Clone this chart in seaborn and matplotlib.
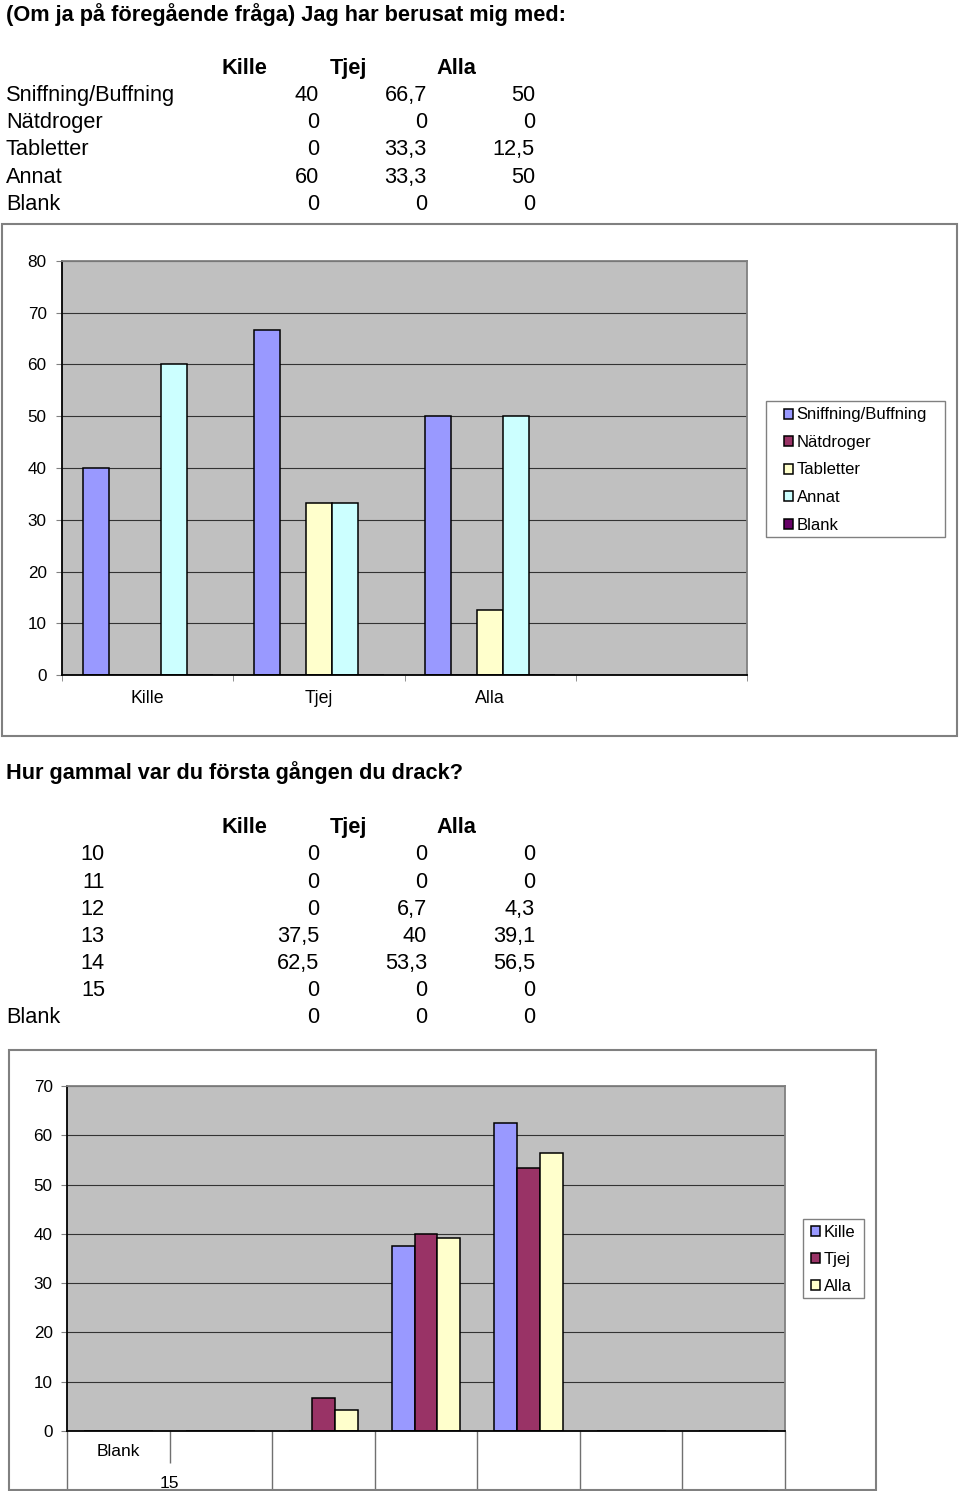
import numpy as np
import pandas as pd
import matplotlib
matplotlib.use('Agg')
import matplotlib.pyplot as plt
from matplotlib.patches import Rectangle
import seaborn as sns

# ---------------- data ----------------
groups = ['Kille', 'Tjej', 'Alla']
substances = ['Sniffning/Buffning', 'Nätdroger', 'Tabletter', 'Annat', 'Blank']
sub_kille = [40, 0, 0, 60, 0]
sub_tjej = [66.7, 0, 33.3, 33.3, 0]
sub_alla = [50, 0, 12.5, 50, 0]
sub_colors = ['#9999FF', '#993366', '#FFFFCC', '#CCFFFF', '#660066']

ages = ['10', '11', '12', '13', '14', '15', 'Blank']
age_kille = [0, 0, 0, 37.5, 62.5, 0, 0]
age_tjej = [0, 0, 6.7, 40, 53.3, 0, 0]
age_alla = [0, 0, 4.3, 39.1, 56.5, 0, 0]
age_colors = ['#9999FF', '#993366', '#FFFFCC']

title1 = '(Om ja på föregående fråga) Jag har berusat mig med:'
title2 = 'Hur gammal var du första gången du drack?'
y1_ticks = list(range(0, 81, 10))
y2_ticks = list(range(0, 71, 10))

# ---------------- setup ----------------
plt.rcParams['font.family'] = ['Liberation Sans', 'DejaVu Sans']
W, H = 960, 1491
fig = plt.figure(figsize=(W / 100, H / 100), dpi=100)
fig.patch.set_facecolor('white')


def fx(x):
    return x / W


def fy(y):
    return 1 - y / H


def fmt(v):
    return f'{v:g}'.replace('.', ',')


TFS = 15.7
# ---------------- table 1 ----------------
fig.text(fx(6), fy(21), title1, fontsize=TFS, fontweight='bold', va='baseline', ha='left')
col_hdr_x = [244, 348, 456]
col_val_x = [319, 427, 535]
for g, x in zip(groups, col_hdr_x):
    fig.text(fx(x), fy(74), g, fontsize=TFS, fontweight='bold', ha='center', va='baseline')
row_base1 = [101, 128, 155, 183, 210]
for i, s in enumerate(substances):
    yb = row_base1[i]
    fig.text(fx(6), fy(yb), s, fontsize=TFS, ha='left', va='baseline')
    for vals, x in zip([sub_kille, sub_tjej, sub_alla], col_val_x):
        fig.text(fx(x), fy(yb), fmt(vals[i]), fontsize=TFS, ha='right', va='baseline')

# ---------------- chart 1 ----------------
fig.add_artist(Rectangle((fx(2), fy(736)), (957 - 2) / W, (736 - 224) / H,
                         transform=fig.transFigure, fill=False, ec='#808080', lw=1.5))
ax1 = fig.add_axes([fx(62), fy(675), (747 - 62) / W, (675 - 261) / H])
rows = []
for g, vals in zip(groups, [sub_kille, sub_tjej, sub_alla]):
    for s, v in zip(substances, vals):
        rows.append({'group': g, 'series': s, 'value': v})
df1 = pd.DataFrame(rows)
sns.barplot(data=df1, x='group', y='value', hue='series', order=groups,
            hue_order=substances, palette=sub_colors, saturation=1, width=0.76,
            edgecolor='black', linewidth=1.1, errorbar=None, ax=ax1)
ax1.set_xlim(-0.5, 3.5)
ax1.set_ylim(0, 80)
ax1.set_facecolor('#C0C0C0')
ax1.set_yticks(y1_ticks)
ax1.yaxis.grid(True, color='#333333', lw=0.8)
ax1.set_axisbelow(True)
ax1.set_xlabel('')
ax1.set_ylabel('')
ax1.set_xticks(range(len(groups)))
ax1.set_xticklabels(groups)
ax1.set_xticks(np.arange(-0.5, 3.6, 1), minor=True)
ax1.tick_params(axis='x', which='major', length=0, pad=11, labelsize=12.8)
ax1.tick_params(axis='x', which='minor', length=4, color='#808080', direction='out')
ax1.tick_params(axis='y', length=4, color='#808080', pad=7, labelsize=12.3)
for sp in ['left', 'bottom']:
    ax1.spines[sp].set_color('black')
    ax1.spines[sp].set_linewidth(1.3)
for sp in ['top', 'right']:
    ax1.spines[sp].set_color('#808080')
    ax1.spines[sp].set_linewidth(1.3)
h1, l1 = ax1.get_legend_handles_labels()
if ax1.get_legend() is not None:
    ax1.get_legend().remove()
fig.add_artist(Rectangle((fx(766), fy(537)), (945 - 766) / W, (537 - 401) / H,
                         transform=fig.transFigure, fill=True, fc='white',
                         ec='#808080', lw=1.0, zorder=-1))
leg1 = ax1.legend(h1, l1, loc='upper left', bbox_to_anchor=(fx(784), fy(407.5)),
                  bbox_transform=fig.transFigure, frameon=False,
                  fontsize=12, handlelength=0.55, handleheight=0.55,
                  handletextpad=0.2, labelspacing=0.75, borderpad=0, borderaxespad=0)

# ---------------- table 2 ----------------
fig.text(fx(6), fy(779), title2, fontsize=TFS, fontweight='bold', va='baseline', ha='left')
for g, x in zip(groups, col_hdr_x):
    fig.text(fx(x), fy(833), g, fontsize=TFS, fontweight='bold', ha='center', va='baseline')
row_base2 = [860, 888, 915, 942, 969, 996, 1023]
for i, a in enumerate(ages):
    yb = row_base2[i]
    if a.isdigit():
        fig.text(fx(105), fy(yb), a, fontsize=TFS, ha='right', va='baseline')
    else:
        fig.text(fx(6), fy(yb), a, fontsize=TFS, ha='left', va='baseline')
    for vals, x in zip([age_kille, age_tjej, age_alla], col_val_x):
        fig.text(fx(x), fy(yb), fmt(vals[i]), fontsize=TFS, ha='right', va='baseline')

# ---------------- chart 2 ----------------
fig.add_artist(Rectangle((fx(9), fy(1490)), (876 - 9) / W, (1490 - 1050) / H,
                         transform=fig.transFigure, fill=False, ec='#808080', lw=1.5))
ax2 = fig.add_axes([fx(67), fy(1431), (785 - 67) / W, (1431 - 1086) / H])
rows = []
for g, vals in zip(groups, [age_kille, age_tjej, age_alla]):
    for a, v in zip(ages, vals):
        rows.append({'age': a, 'group': g, 'value': v})
df2 = pd.DataFrame(rows)
sns.barplot(data=df2, x='age', y='value', hue='group', order=ages,
            hue_order=groups, palette=age_colors, saturation=1, width=0.67,
            edgecolor='black', linewidth=1.1, errorbar=None, ax=ax2)
ax2.set_xlim(-0.5, len(ages) - 0.5)
ax2.set_ylim(0, 70)
ax2.set_facecolor('#C0C0C0')
ax2.set_yticks(y2_ticks)
ax2.yaxis.grid(True, color='#333333', lw=0.8)
ax2.set_axisbelow(True)
ax2.set_xlabel('')
ax2.set_ylabel('')
ax2.set_xticks([-0.5, 1.5, 2.5, 3.5, 4.5, 5.5, 6.5])
ax2.set_xticklabels([])
ax2.set_xticks([0.5], minor=True)
ax2.tick_params(axis='x', which='major', length=43, color='#707070', width=1)
ax2.tick_params(axis='x', which='minor', length=23, color='#707070', width=1)
ax2.tick_params(axis='y', length=4, color='#808080', pad=6.3, labelsize=12.3)
ax2.text(0, -0.058, ages[-1], transform=ax2.get_xaxis_transform(), ha='center',
         va='center', fontsize=12.6)
ax2.text(0.5, -0.151, ages[-2], transform=ax2.get_xaxis_transform(), ha='center',
         va='center', fontsize=12.6)
for sp in ['left', 'bottom']:
    ax2.spines[sp].set_color('black')
    ax2.spines[sp].set_linewidth(1.3)
for sp in ['top', 'right']:
    ax2.spines[sp].set_color('#808080')
    ax2.spines[sp].set_linewidth(1.3)
h2, l2 = ax2.get_legend_handles_labels()
if ax2.get_legend() is not None:
    ax2.get_legend().remove()
fig.add_artist(Rectangle((fx(803), fy(1298)), (864 - 803) / W, (1298 - 1219) / H,
                         transform=fig.transFigure, fill=True, fc='white',
                         ec='#808080', lw=1.0, zorder=-1))
leg2 = ax2.legend(h2, l2, loc='upper left', bbox_to_anchor=(fx(811), fy(1225)),
                  bbox_transform=fig.transFigure, frameon=False,
                  fontsize=12, handlelength=0.55, handleheight=0.55,
                  handletextpad=0.2, labelspacing=0.71, borderpad=0, borderaxespad=0)

fig.savefig('out.png', dpi=100, facecolor='white')
